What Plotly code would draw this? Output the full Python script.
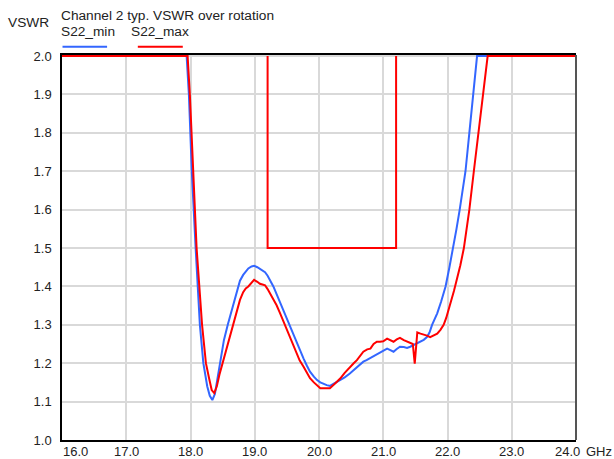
import plotly.graph_objects as go

# ---------------- data ----------------
freq_min = [16.0, 17.94, 17.975, 18.02, 18.08, 18.146, 18.20, 18.26, 18.30, 18.34, 18.38, 18.42, 18.45,
            18.52, 18.58, 18.62, 18.67, 18.72, 18.77, 18.82, 18.86, 18.90, 18.95, 18.99, 19.04, 19.08,
            19.12, 19.16, 19.20, 19.24, 19.29, 19.34, 19.39, 19.44, 19.50, 19.55, 19.60, 19.65, 19.70,
            19.76, 19.81, 19.86, 19.92, 19.97, 20.02, 20.07, 20.12, 20.17, 20.25, 20.33, 20.40, 20.48,
            20.56, 20.64, 20.69, 20.74, 20.80, 20.87, 20.93, 20.98, 21.02, 21.06, 21.11, 21.16, 21.21,
            21.26, 21.32, 21.37, 21.42, 21.47, 21.53, 21.58, 21.63, 21.68, 21.72, 21.76, 21.84, 21.90,
            21.97, 22.03, 22.09, 22.14, 22.19, 22.23, 22.28, 22.34, 22.40, 22.43, 22.46, 24.0]
s22_min = [2.0, 2.0, 1.90, 1.70, 1.50, 1.30, 1.20, 1.14, 1.115, 1.104, 1.12, 1.16, 1.20,
           1.26, 1.30, 1.325, 1.36, 1.39, 1.415, 1.43, 1.44, 1.447, 1.452, 1.454, 1.450, 1.446,
           1.442, 1.437, 1.428, 1.416, 1.400, 1.380, 1.360, 1.338, 1.315, 1.294, 1.272, 1.251, 1.232,
           1.212, 1.194, 1.178, 1.165, 1.156, 1.150, 1.146, 1.143, 1.141, 1.148, 1.156, 1.163, 1.173,
           1.185, 1.195, 1.204, 1.208, 1.214, 1.221, 1.225, 1.230, 1.235, 1.238, 1.234, 1.230, 1.237,
           1.243, 1.242, 1.240, 1.243, 1.247, 1.251, 1.256, 1.261, 1.268, 1.280, 1.300, 1.330, 1.360,
           1.400, 1.450, 1.500, 1.550, 1.600, 1.640, 1.700, 1.800, 1.900, 1.950, 2.0, 2.0]

freq_max = [16.0, 17.955, 17.99, 18.04, 18.095, 18.18, 18.24, 18.29, 18.33, 18.37, 18.41, 18.45, 18.50,
            18.56, 18.61, 18.66, 18.72, 18.77, 18.82, 18.86, 18.90, 18.95, 18.99, 19.04, 19.08, 19.12,
            19.16, 19.20, 19.24, 19.29, 19.34, 19.39, 19.44, 19.50, 19.55, 19.60, 19.65, 19.70, 19.76,
            19.81, 19.86, 19.92, 19.97, 20.02, 20.10, 20.17, 20.25, 20.33, 20.40, 20.48, 20.54, 20.59,
            20.64, 20.69, 20.75, 20.80, 20.85, 20.90, 20.95, 21.00, 21.06, 21.11, 21.16, 21.21, 21.26,
            21.32, 21.37, 21.42, 21.46, 21.49, 21.53, 21.58, 21.63, 21.68, 21.73, 21.79, 21.84, 21.89,
            21.94, 21.98, 22.02, 22.06, 22.10, 22.14, 22.20, 22.255, 22.30, 22.34, 22.41, 22.48,
            22.555, 22.625, 24.0]
s22_max = [2.0, 2.0, 1.90, 1.70, 1.50, 1.30, 1.20, 1.16, 1.13, 1.122, 1.14, 1.17, 1.20,
           1.24, 1.268, 1.30, 1.338, 1.365, 1.385, 1.395, 1.400, 1.410, 1.417, 1.412, 1.407, 1.405,
           1.403, 1.393, 1.381, 1.366, 1.351, 1.332, 1.312, 1.290, 1.268, 1.246, 1.225, 1.207, 1.191,
           1.175, 1.161, 1.150, 1.143, 1.135, 1.135, 1.135, 1.147, 1.160, 1.175, 1.191, 1.200, 1.208,
           1.220, 1.230, 1.236, 1.238, 1.250, 1.256, 1.256, 1.257, 1.264, 1.260, 1.256, 1.262, 1.266,
           1.260, 1.256, 1.253, 1.250, 1.199, 1.280, 1.277, 1.275, 1.272, 1.268, 1.273, 1.277, 1.287,
           1.300, 1.318, 1.340, 1.363, 1.388, 1.415, 1.455, 1.500, 1.550, 1.600, 1.700, 1.800,
           1.900, 2.0, 2.0]

mask_freq = [19.2, 19.2, 21.2, 21.2]
mask_vswr = [2.0, 1.5, 1.5, 2.0]

x_ticks = [16.0, 17.0, 18.0, 19.0, 20.0, 21.0, 22.0, 23.0, 24.0]
x_tick_labels = ["16.0", "17.0", "18.0", "19.0", "20.0", "21.0", "22.0", "23.0", "24.0"]
x_unit = "GHz"
y_ticks = [1.0, 1.1, 1.2, 1.3, 1.4, 1.5, 1.6, 1.7, 1.8, 1.9, 2.0]

title_text = "Channel 2 typ. VSWR over rotation"
y_title = "VSWR"
names = ["S22_min", "S22_max"]

# ---------------- figure ----------------
BLUE = "#3366FF"
RED = "#FF0000"
FONT = "Liberation Sans, Arial, Helvetica, sans-serif"
HEAD = 13.7

fig = go.Figure()
fig.add_trace(go.Scatter(x=freq_min, y=s22_min, mode="lines", name=names[0],
                         line=dict(color=BLUE, width=2)))
fig.add_trace(go.Scatter(x=freq_max, y=s22_max, mode="lines", name=names[1],
                         line=dict(color=RED, width=2)))
fig.add_trace(go.Scatter(x=mask_freq, y=mask_vswr, mode="lines", name="mask",
                         line=dict(color=RED, width=2)))

annotations = []
for v, t in zip(x_ticks, x_tick_labels):
    if v == x_ticks[0]:
        xa, xs = "left", -1
    elif v == x_ticks[-1]:
        xa, xs = "right", 6
    else:
        xa, xs = "center", 0
    annotations.append(dict(x=v, xref="x", y=0, yref="paper", text=t, showarrow=False,
                            xanchor=xa, yanchor="top", xshift=xs, yshift=-2,
                            font=dict(size=13, color="#222")))
annotations.append(dict(x=x_ticks[-1], xref="x", y=0, yref="paper", text=x_unit, showarrow=False,
                        xanchor="left", yanchor="top", xshift=8, yshift=-2,
                        font=dict(size=13, color="#222")))
annotations.append(dict(x=0, xref="paper", y=1, yref="paper", text=title_text, showarrow=False,
                        xanchor="left", yanchor="middle", xshift=-3, yshift=40,
                        font=dict(size=HEAD, color="#222")))
annotations.append(dict(x=0, xref="paper", y=1, yref="paper", text=y_title, showarrow=False,
                        xanchor="right", yanchor="middle", xshift=-11, yshift=33,
                        font=dict(size=HEAD, color="#222")))
annotations.append(dict(x=0, xref="paper", y=1, yref="paper", text=names[0], showarrow=False,
                        xanchor="left", yanchor="middle", xshift=-3, yshift=24,
                        font=dict(size=HEAD, color="#222")))
annotations.append(dict(x=0.1305, xref="paper", y=1, yref="paper", text=names[1], showarrow=False,
                        xanchor="left", yanchor="middle", xshift=0, yshift=24,
                        font=dict(size=HEAD, color="#222")))

shapes = [
    dict(type="line", xref="paper", yref="paper", x0=0.001, x1=0.0877, y0=1.0215, y1=1.0215,
         line=dict(color=BLUE, width=2)),
    dict(type="line", xref="paper", yref="paper", x0=0.1475, x1=0.235, y0=1.0215, y1=1.0215,
         line=dict(color=RED, width=2)),
    dict(type="line", xref="paper", yref="paper", x0=1, x1=1, y0=0, y1=1,
         line=dict(color="#555555", width=2)),
]

fig.update_layout(
    width=614, height=459,
    margin=dict(l=62, r=38, t=55, b=19, pad=0),
    paper_bgcolor="white", plot_bgcolor="white",
    font=dict(family=FONT, size=13, color="#222"),
    showlegend=False,
    annotations=annotations,
    shapes=shapes,
    xaxis=dict(range=[16, 24], tickvals=x_ticks, showticklabels=False,
               showgrid=True, gridcolor="#d9d9d9", gridwidth=1.5,
               showline=True, linecolor="black", linewidth=1.5, mirror=True,
               zeroline=False, ticks="", layer="below traces"),
    yaxis=dict(range=[1, 2.0028], tickvals=y_ticks, tickformat=".1f",
               showgrid=True, gridcolor="#d9d9d9", gridwidth=1.5,
               showline=True, linecolor="black", linewidth=1.5,
               zeroline=False, ticks="", ticklabelstandoff=6, layer="below traces",
               tickfont=dict(size=13, color="#222")),
)

fig.write_html("out.html")
